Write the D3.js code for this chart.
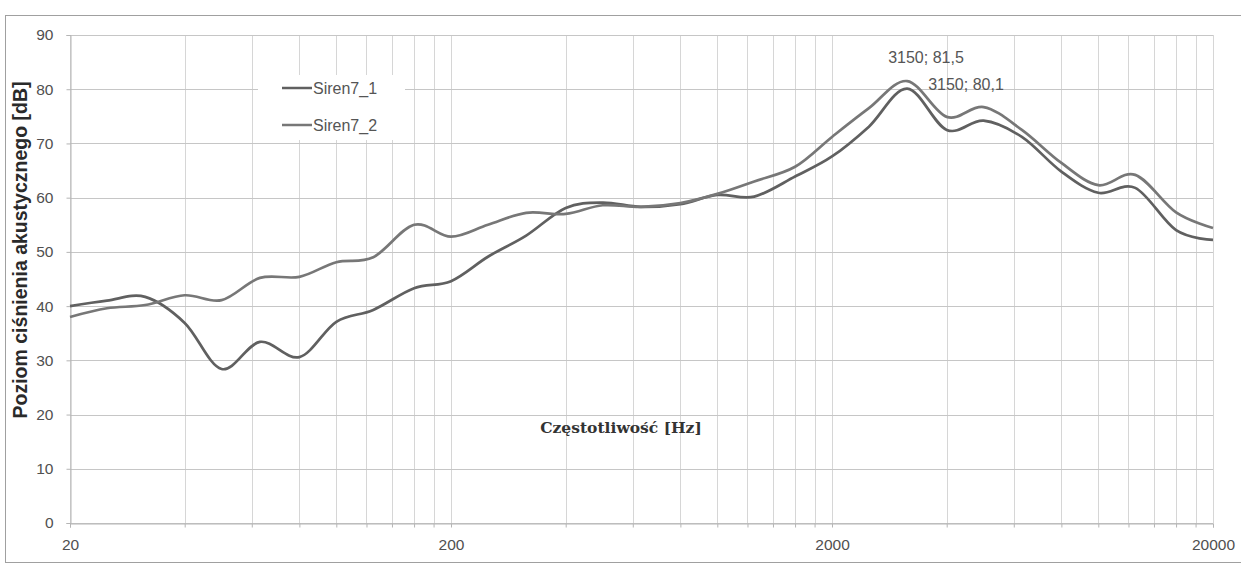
<!DOCTYPE html>
<html>
<head>
<meta charset="utf-8">
<script src="https://cdn.jsdelivr.net/npm/d3@7"></script>
<style>
  body { margin: 0; background: #fff; }
  svg { display: block; }
</style>
</head>
<body>
<div id="chart"></div>
<script>
// one-third octave bands [Hz]
var freqs = [20, 25, 31.5, 40, 50, 63, 80, 100, 125, 160, 200, 250, 315, 400, 500, 630, 800,
  1000, 1250, 1600, 2000, 2500, 3150, 4000, 5000, 6300, 8000, 10000, 12500, 16000, 20000];

// sound pressure level [dB]
var siren7_1 = [40.0, 41.0, 41.7, 36.9, 28.4, 33.4, 30.6, 37.1, 39.3, 43.3, 44.6, 49.1, 53.0, 58.1, 59.1, 58.3, 58.8,
  60.5, 60.2, 63.9, 67.6, 73.1, 80.1, 72.5, 74.2, 71.2, 64.8, 60.9, 61.8, 54.0, 52.2];
var siren7_2 = [38.0, 39.6, 40.2, 42.0, 41.1, 45.2, 45.4, 48.1, 49.0, 55.0, 52.8, 55.0, 57.2, 57.0, 58.6, 58.3, 59.0,
  60.7, 63.0, 65.7, 71.2, 76.5, 81.5, 74.9, 76.7, 72.5, 66.4, 62.3, 64.2, 57.3, 54.4];

var seriesNames = ["Siren7_1", "Siren7_2"];
var seriesColors = ["#606060", "#777777"];

var majorTicks = [20, 200, 2000, 20000];
var yTicks = [0, 10, 20, 30, 40, 50, 60, 70, 80, 90];

// labelled point (3150 Hz)
var peakFreq = 3150;

var width = 1241, height = 565;
var margin = {top: 35, right: 28, bottom: 42, left: 70};

var svg = d3.select("#chart").append("svg")
  .attr("width", width)
  .attr("height", height);

// outer chart frame
svg.append("rect")
  .attr("x", 5.5).attr("y", 15.5)
  .attr("width", 1240).attr("height", 547)
  .attr("fill", "none")
  .attr("stroke", "#a0a0a0")
  .attr("stroke-width", 1);

var x = d3.scaleLog()
  .domain([20, 20000])
  .range([margin.left, width - margin.right]);

var y = d3.scaleLinear()
  .domain([0, 90])
  .range([height - margin.bottom, margin.top]);

// minor log ticks: 20,40,...,180,200,400,...
var allTicks = [];
majorTicks.slice(0, -1).forEach(function(d) {
  for (var m = 1; m < 10; m++) allTicks.push(d * m);
});
allTicks.push(20000);

// grid
svg.append("g")
  .selectAll("line")
  .data(allTicks)
  .enter().append("line")
  .attr("x1", d => Math.round(x(d)) + 0.5)
  .attr("x2", d => Math.round(x(d)) + 0.5)
  .attr("y1", y(90))
  .attr("y2", y(0))
  .attr("stroke", "#d6d6d6")
  .attr("stroke-width", 1);

svg.append("g")
  .selectAll("line")
  .data(yTicks)
  .enter().append("line")
  .attr("x1", x(20))
  .attr("x2", x(20000))
  .attr("y1", d => Math.round(y(d)) + 0.5)
  .attr("y2", d => Math.round(y(d)) + 0.5)
  .attr("stroke", "#c6c6c6")
  .attr("stroke-width", 1);

// axes
function styleAxis(g) {
  g.selectAll("line, path").attr("stroke", "#b5b5b5");
  g.selectAll("text")
    .style("font-family", "'Liberation Sans', Arial, sans-serif")
    .style("font-size", "15.5px")
    .style("fill", "#505050");
}

var xAxis = d3.axisBottom(x)
  .tickValues(allTicks)
  .tickSize(4)
  .tickPadding(11)
  .tickFormat(d => majorTicks.indexOf(d) >= 0 ? d : "");

svg.append("g")
  .attr("transform", "translate(0," + (Math.round(y(0)) + 0.5) + ")")
  .call(xAxis)
  .call(styleAxis);

var yAxis = d3.axisLeft(y)
  .tickValues(yTicks)
  .tickSize(4)
  .tickPadding(13);

svg.append("g")
  .attr("transform", "translate(" + (Math.round(x(20)) + 0.5) + ",0)")
  .call(yAxis)
  .call(styleAxis);

// legend (white box hides the grid)
var legend = svg.append("g");
legend.append("rect")
  .attr("x", 258).attr("y", 75)
  .attr("width", 147).attr("height", 65)
  .attr("fill", "#fff");

seriesNames.forEach(function(name, i) {
  var ly = 88 + i * 37;
  legend.append("line")
    .attr("x1", 282).attr("x2", 312)
    .attr("y1", ly).attr("y2", ly)
    .attr("stroke", seriesColors[i])
    .attr("stroke-width", 2.5);
  legend.append("text")
    .attr("x", 313).attr("y", ly + 5.5)
    .style("font-family", "'Liberation Sans', Arial, sans-serif")
    .style("font-size", "16px")
    .style("fill", "#555")
    .text(name);
});

// curves
var line = d3.line()
  .x(d => x(d.f))
  .y(d => y(d.v))
  .curve(d3.curveCatmullRom.alpha(0));

[siren7_1, siren7_2].forEach(function(vals, i) {
  var pts = freqs.map((f, j) => ({f: f, v: vals[j]}));
  svg.append("path")
    .datum(pts)
    .attr("d", line)
    .attr("fill", "none")
    .attr("stroke", seriesColors[i])
    .attr("stroke-width", 2.7)
    .attr("stroke-linejoin", "round");
});

// data labels at 3150 Hz
var k = freqs.indexOf(peakFreq);
var labelStyle = function(t) {
  t.style("font-family", "'Liberation Sans', Arial, sans-serif")
    .style("font-size", "16px")
    .style("fill", "#555");
};
svg.append("text")
  .attr("x", x(peakFreq) - 19)
  .attr("y", y(siren7_2[k]) - 18)
  .call(labelStyle)
  .text(peakFreq + "; " + String(siren7_2[k]).replace(".", ","));
svg.append("text")
  .attr("x", x(peakFreq) + 21)
  .attr("y", y(siren7_1[k]) + 1.5)
  .call(labelStyle)
  .text(peakFreq + "; " + String(siren7_1[k]).replace(".", ","));

// axis titles
svg.append("text")
  .attr("transform", "translate(27,250) rotate(-90)")
  .attr("text-anchor", "middle")
  .style("font-family", "'Liberation Sans', Arial, sans-serif")
  .style("font-size", "19.5px")
  .style("font-weight", "bold")
  .style("fill", "#2a2a2a")
  .text("Poziom ciśnienia akustycznego [dB]");

svg.append("text")
  .attr("x", 621)
  .attr("y", 433)
  .attr("text-anchor", "middle")
  .style("font-family", "'DejaVu Serif', serif")
  .style("font-size", "15.5px")
  .style("font-weight", "bold")
  .style("fill", "#333")
  .text("Częstotliwość [Hz]");
</script>
</body>
</html>
